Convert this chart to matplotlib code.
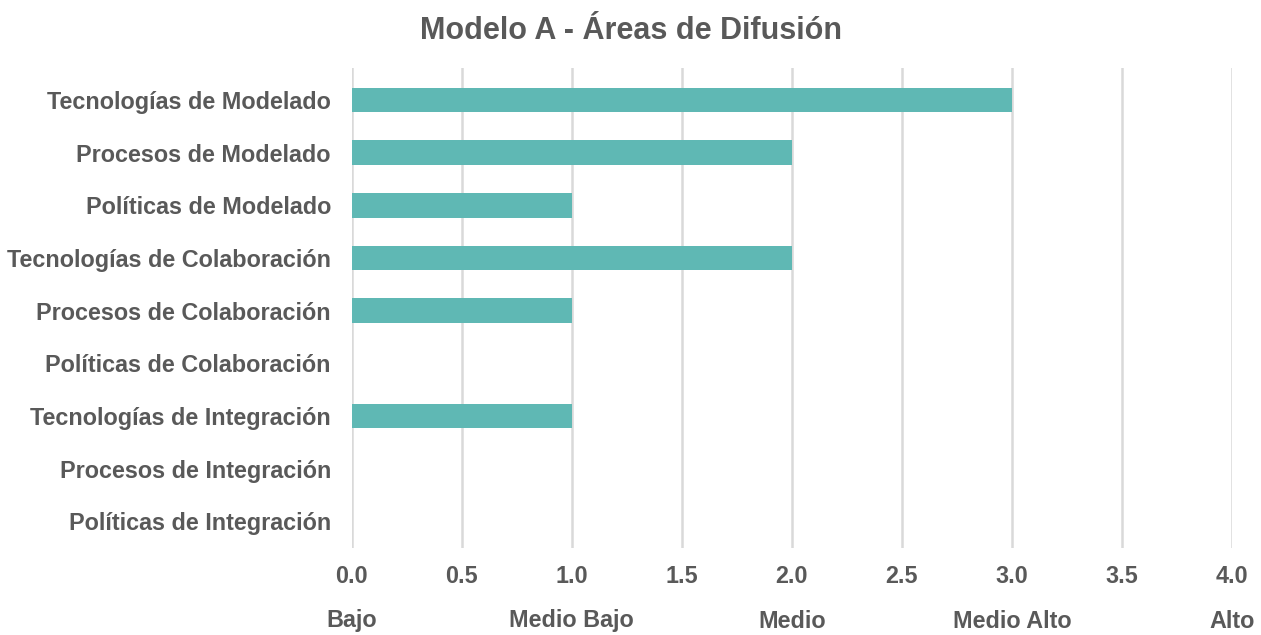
import matplotlib.pyplot as plt
import matplotlib.transforms as mtransforms

categorias = ['Tecnologías de Modelado', 'Procesos de Modelado', 'Políticas de Modelado',
              'Tecnologías de Colaboración', 'Procesos de Colaboración', 'Políticas de Colaboración',
              'Tecnologías de Integración', 'Procesos de Integración', 'Políticas de Integración']
valores = [3, 2, 1, 2, 1, 0, 1, 0, 0]
niveles = ['Bajo', 'Medio Bajo', 'Medio', 'Medio Alto', 'Alto']
niveles_pos = [0, 1, 2, 3, 4]

plt.rcParams['font.family'] = ['Liberation Sans', 'DejaVu Sans']
gris = '#595959'
fs = 16.8

fig = plt.figure(figsize=(12.61, 6.35), dpi=100)
ax = fig.add_axes([0.279, 0.137, 0.698, 0.756])

y = list(range(len(categorias)))
ax.barh(y, valores, height=0.47, color='#5FB8B4', zorder=3)
ax.set_yticks(y)
ax.set_yticklabels(categorias, fontsize=fs, fontweight='bold', color=gris)
ax.set_ylim(8.51, -0.61)

ax.set_xlim(0, 4)
ax.set_xticks([0, 0.5, 1, 1.5, 2, 2.5, 3, 3.5, 4])
ax.set_xticklabels([f'{v:.1f}' for v in ax.get_xticks()], fontsize=fs, fontweight='bold', color=gris)
ax.tick_params(length=0, axis='x', pad=12)
ax.tick_params(length=0, axis='y', pad=15)
ax.grid(axis='x', color='#D9D9D9', linewidth=1.8, zorder=0)
for s in ax.spines.values():
    s.set_visible(False)

trans = mtransforms.blended_transform_factory(ax.transData, fig.transFigure)
for p, t in zip(niveles_pos, niveles):
    ax.text(p, 1 - 621 / 635, t, transform=trans, ha='center', va='center',
            fontsize=fs, fontweight='bold', color=gris, clip_on=False)

fig.text(0.5, 1 - 31 / 635, 'Modelo A - Áreas de Difusión', ha='center', va='center',
         fontsize=22, fontweight='bold', color=gris)

fig.savefig('out.png', dpi=100)
